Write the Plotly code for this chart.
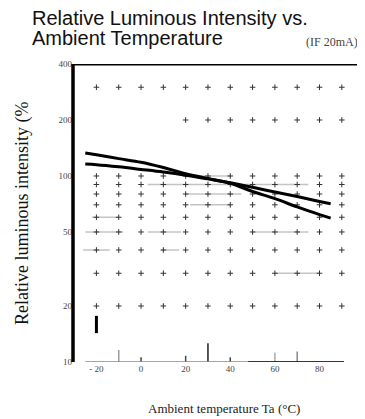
import plotly.graph_objects as go

# ---- data ----
hs_temp = [-25, -20, -10, 0, 10, 20, 30, 40, 50, 60, 70, 80, 85]
hs_rel = [133, 130, 124, 118.5, 111, 103, 97, 91.4, 82.5, 75.5, 68.2, 62, 59.4]
hy_temp = [-25, -20, -10, 0, 10, 20, 30, 40, 50, 60, 70, 80, 85]
hy_rel = [116, 115, 112, 108.5, 105, 101, 96.5, 92, 87, 82, 77.5, 73, 71]

x_tick_vals = [-20, 0, 20, 40, 60, 80]
x_tick_text = ["- 20", "0", "20", "40", "60", "80"]
y_tick_vals = [10, 20, 50, 100, 200, 400]
y_tick_text = ["10", "20", "50", "100", "200", "400"]

grid_temps = [-20, -10, 0, 10, 20, 30, 40, 50, 60, 70, 80, 90]
grid_rows_full = [20, 30, 40, 50, 60, 70, 80, 90, 100, 300]
grid_rows_right = [200]
grid_right_temps = [20, 30, 40, 50, 60, 70, 80, 90]

# faint scan fragments of grid lines: (t_start, t_end, level)
gray_h_segments = [(-25, -8, 50), (3, 18, 50), (-26, -14, 40), (9, 17, 40),
                   (3, 55, 90), (20, 45, 80), (55, 75, 90), (22, 40, 70),
                   (-22, -10, 60), (25, 40, 100), (60, 80, 30), (50, 75, 50)]
# short vertical fragments near the bottom: (temp, top level, colour)
bottom_bars = [(-10, 11.6, "#999999"), (0, 10.6, "#444444"), (20, 10.8, "#444444"),
               (30, 12.6, "#222222"), (40, 10.6, "#444444"), (60, 11.2, "#aaaaaa"),
               (70, 11.4, "#888888")]

fig = go.Figure()

for t0, t1, lv in gray_h_segments:
    fig.add_trace(go.Scatter(x=[t0, t1], y=[lv, lv], mode="lines",
                             line=dict(color="#c4c4c4", width=1.5),
                             hoverinfo="skip", showlegend=False))

for t, top, col in bottom_bars:
    fig.add_trace(go.Scatter(x=[t, t], y=[10, top], mode="lines",
                             line=dict(color=col, width=1.5),
                             hoverinfo="skip", showlegend=False))

gx, gy = [], []
for lv in grid_rows_full:
    for t in grid_temps:
        gx.append(t)
        gy.append(lv)
for lv in grid_rows_right:
    for t in grid_right_temps:
        gx.append(t)
        gy.append(lv)
fig.add_trace(go.Scatter(x=gx, y=gy, mode="markers",
                         marker=dict(symbol="cross-thin", size=4,
                                     line=dict(color="#333333", width=1)),
                         hoverinfo="skip", showlegend=False))

fig.add_trace(go.Scatter(x=hs_temp, y=hs_rel, mode="lines", name="HS",
                         line=dict(color="black", width=3, shape="spline"),
                         showlegend=False))
fig.add_trace(go.Scatter(x=hy_temp, y=hy_rel, mode="lines", name="HY",
                         line=dict(color="black", width=3, shape="spline"),
                         showlegend=False))

fig.add_shape(type="line", xref="paper", yref="y", x0=0, x1=0, y0=10, y1=400,
              line=dict(color="black", width=3.5))
fig.add_shape(type="line", xref="paper", yref="y", x0=0, x1=1, y0=400, y1=400,
              line=dict(color="black", width=3))
fig.add_shape(type="line", xref="x", yref="y", x0=-25, x1=91, y0=10, y1=10,
              line=dict(color="#888888", width=1.5))
fig.add_shape(type="line", xref="x", yref="y", x0=48, x1=91, y0=10, y1=10,
              line=dict(color="#111111", width=1.5))
fig.add_shape(type="line", xref="paper", yref="y", x0=1, x1=1, y0=400, y1=138,
              line=dict(color="black", width=1))
fig.add_shape(type="line", xref="paper", yref="y", x0=1, x1=1, y0=21.5, y1=10,
              line=dict(color="black", width=1))
fig.add_shape(type="line", xref="x", yref="y", x0=-20, x1=-20, y0=14.3, y1=17.7,
              line=dict(color="black", width=3))

serif = "Liberation Serif"

fig.update_layout(
    width=357, height=411,
    margin=dict(l=65, r=2, t=56, b=57),
    paper_bgcolor="white", plot_bgcolor="white",
    xaxis=dict(range=[-30.5, 99.5], showgrid=False, zeroline=False, showline=False,
               tickvals=x_tick_vals, ticktext=x_tick_text, ticks="",
               tickfont=dict(family=serif, size=9, color="#444444")),
    yaxis=dict(type="log", range=[1, 2.60206], showgrid=False, zeroline=False,
               showline=False, tickvals=y_tick_vals, ticktext=y_tick_text, ticks="",
               tickfont=dict(family=serif, size=9, color="#444444")),
    annotations=[
        dict(text="Relative Luminous Intensity vs.", xref="paper", yref="paper",
             x=-0.145, y=1.0, xanchor="left", yanchor="bottom", yshift=34,
             borderpad=0,
             showarrow=False, font=dict(family="Liberation Sans", size=20, color="#111111")),
        dict(text="Ambient Temperature", xref="paper", yref="paper",
             x=-0.145, y=1.0, xanchor="left", yanchor="bottom", yshift=14,
             borderpad=0,
             showarrow=False, font=dict(family="Liberation Sans", size=20, color="#111111")),
        dict(text="(IF 20mA)", xref="paper", yref="paper",
             x=0.99, y=1.0, xanchor="right", yanchor="bottom", yshift=13,
             showarrow=False, font=dict(family=serif, size=12, color="#444444")),
        dict(text="Relative luminous intensity (%", xref="paper", yref="paper",
             x=-0.176, y=0.5, xanchor="center", yanchor="middle",
             textangle=-90, showarrow=False,
             font=dict(family=serif, size=18, color="#111111")),
        dict(text="Ambient temperature Ta (°C)", xref="paper", yref="paper",
             x=0.52, y=0, xanchor="center", yanchor="middle", yshift=-46,
             showarrow=False, font=dict(family=serif, size=13, color="#222222")),
        dict(text="HS", xref="x", yref="y", x=-19.5, y=150, showarrow=False,
             font=dict(family=serif, size=12, color="#333333")),
        dict(text="HY", xref="x", yref="y", x=-19.5, y=90, showarrow=False,
             font=dict(family=serif, size=12, color="#333333")),
    ],
)

fig.write_html("out.html")
